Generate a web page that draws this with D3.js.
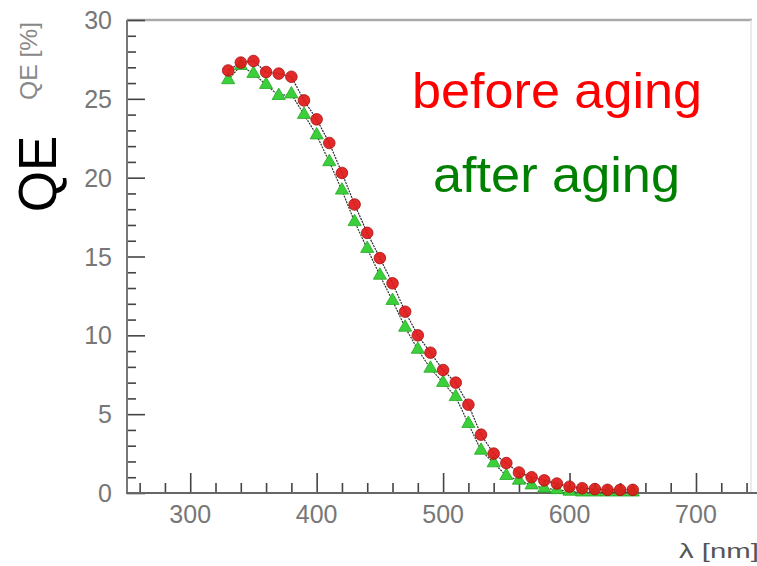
<!DOCTYPE html>
<html>
<head>
<meta charset="utf-8">
<script src="https://cdn.jsdelivr.net/npm/d3@7"></script>
<style>
  html, body { margin: 0; padding: 0; background: #fff; }
  svg { display: block; }
</style>
</head>
<body>
<svg id="chart" width="757" height="566"></svg>
<script>
const wavelength = [330,340,350,360,370,380,390,400,410,420,430,440,450,460,470,480,490,500,510,520,530,540,550,560,570,580,590,600,610,620,630,640,650];
const qeBefore = [26.8,27.3,27.4,26.7,26.6,26.4,24.9,23.7,22.2,20.3,18.3,16.5,14.9,13.3,11.5,10.0,8.9,7.8,7.0,5.6,3.7,2.5,1.9,1.3,1.0,0.8,0.6,0.4,0.3,0.25,0.2,0.2,0.2];
const qeAfter  = [26.2,27.1,26.6,25.9,25.2,25.3,24.0,22.7,21.0,19.2,17.2,15.5,13.8,12.2,10.5,9.1,7.9,7.0,6.1,4.4,2.7,1.9,1.1,0.8,0.5,0.3,0.2,0.1,0.05,0.05,0.05,0.05,0.05];
const xMajorTicks = [300,400,500,600,700];
const yMajorTicks = [0,5,10,15,20,25,30];
const seriesNames = ["before aging","after aging"];

const svg = d3.select("#chart");
const x = d3.scaleLinear().domain([250,750]).range([127,759.2]);
const y = d3.scaleLinear().domain([0,30]).range([493,20]);

// frame lines
svg.append("line").attr("x1",127).attr("x2",752).attr("y1",20).attr("y2",20)
  .attr("stroke","#aaa").attr("stroke-width",2.5);
svg.append("line").attr("x1",751).attr("x2",751).attr("y1",20).attr("y2",493)
  .attr("stroke","#e4e4e4").attr("stroke-width",1.5);

// y axis: minor and major ticks (inward)
const yMinor = d3.range(0,30,1).filter(v => v % 5 !== 0);
const yAxisMinor = d3.axisRight(y).tickValues(yMinor).tickSize(9).tickFormat("");
const yAxisMajor = d3.axisRight(y).tickValues(yMajorTicks).tickSize(18).tickFormat("");
[yAxisMinor, yAxisMajor].forEach(ax => {
  const g = svg.append("g").attr("transform","translate(127,0)").call(ax);
  g.select(".domain").remove();
  g.selectAll(".tick line").attr("stroke","#444").attr("stroke-width",1.6);
});
svg.append("g").selectAll("text").data(yMajorTicks).join("text")
  .attr("x",112).attr("y",d => y(d)).attr("dy","0.36em")
  .attr("text-anchor","end").attr("font-family","Liberation Sans, Arial, sans-serif")
  .attr("font-size",25).attr("fill","#777").text(d => d);

// x axis: minor and major ticks (inward)
const xMinor = d3.range(260,750,20).filter(v => v % 100 !== 0);
const xAxisMinor = d3.axisTop(x).tickValues(xMinor).tickSize(10).tickFormat("");
const xAxisMajor = d3.axisTop(x).tickValues(xMajorTicks).tickSize(20).tickFormat("");
[xAxisMinor, xAxisMajor].forEach(ax => {
  const g = svg.append("g").attr("transform","translate(0,493)").call(ax);
  g.select(".domain").remove();
  g.selectAll(".tick line").attr("stroke","#444").attr("stroke-width",1.6);
});
svg.append("g").selectAll("text").data(xMajorTicks).join("text")
  .attr("x",d => x(d)).attr("y",523)
  .attr("text-anchor","middle").attr("font-family","Liberation Sans, Arial, sans-serif")
  .attr("font-size",25).attr("fill","#777").text(d => d);

// axis lines
svg.append("line").attr("x1",127).attr("x2",127).attr("y1",20).attr("y2",494)
  .attr("stroke","#777").attr("stroke-width",2);
svg.append("line").attr("x1",126).attr("x2",757).attr("y1",493).attr("y2",493)
  .attr("stroke","#666").attr("stroke-width",2);

// data lines
const line = d3.line().x(d => x(d[0])).y(d => y(d[1]));
const afterPts = wavelength.map((w,i) => [w, qeAfter[i]]);
const beforePts = wavelength.map((w,i) => [w, qeBefore[i]]);
svg.append("path").attr("d", line(afterPts)).attr("fill","none")
  .attr("stroke","#2a3a2a").attr("stroke-width",1.2).attr("stroke-dasharray","2,1");
svg.append("path").attr("d", line(beforePts)).attr("fill","none")
  .attr("stroke","#2a2a3a").attr("stroke-width",1.2).attr("stroke-dasharray","2,1");

// markers
const tri = d3.symbol().type(d3.symbolTriangle).size(75);
svg.append("g").selectAll("path").data(afterPts).join("path")
  .attr("d", tri).attr("transform", d => `translate(${x(d[0])},${y(d[1])})`)
  .attr("fill","#3ccf3c").attr("stroke","#22a822").attr("stroke-width",0.8);
svg.append("g").selectAll("circle").data(beforePts).join("circle")
  .attr("cx", d => x(d[0])).attr("cy", d => y(d[1])).attr("r",5.8)
  .attr("fill","#e01818").attr("stroke","#a81010").attr("stroke-width",0.8)
  .attr("fill-opacity",0.92);

// axis titles
svg.append("text").attr("transform","translate(37,61) rotate(-90)")
  .attr("text-anchor","middle").attr("font-family","Liberation Sans, Arial, sans-serif")
  .attr("font-size",24).attr("fill","#888")
  .attr("textLength",78).attr("lengthAdjust","spacingAndGlyphs").text("QE [%]");
svg.append("text").attr("transform","translate(56,174) rotate(-90)")
  .attr("text-anchor","middle").attr("font-family","Liberation Sans, Arial, sans-serif")
  .attr("font-size",53).attr("fill","#000").text("QE");
svg.append("text").attr("x",679).attr("y",558)
  .attr("font-family","Liberation Sans, Arial, sans-serif")
  .attr("font-size",21).attr("fill","#555")
  .attr("textLength",80).attr("lengthAdjust","spacingAndGlyphs").text("λ [nm]");

// legend text
svg.append("text").attr("x",412).attr("y",108)
  .attr("font-family","Liberation Sans, Arial, sans-serif").attr("font-size",50)
  .attr("fill","#ff0000").attr("textLength",290).attr("lengthAdjust","spacingAndGlyphs")
  .text(seriesNames[0]);
svg.append("text").attr("x",433).attr("y",192)
  .attr("font-family","Liberation Sans, Arial, sans-serif").attr("font-size",50)
  .attr("fill","#008000").attr("textLength",247).attr("lengthAdjust","spacingAndGlyphs")
  .text(seriesNames[1]);
</script>
</body>
</html>
